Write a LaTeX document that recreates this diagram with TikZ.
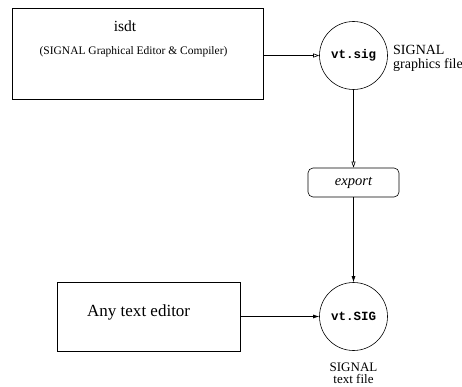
\documentclass[tikz,border=0pt]{standalone}
\usepackage{fontspec}
\setmainfont{Liberation Serif}
\setmonofont{Liberation Mono}
\usetikzlibrary{arrows.meta}
\begin{document}
\begin{tikzpicture}[x=1pt,y=-1pt,
  box/.style={draw,line width=0.7pt,inner sep=0pt},
  filenode/.style={draw,circle,line width=0.6pt,minimum size=68pt,inner sep=0pt,font=\ttfamily\bfseries\fontsize{12.5}{14}\selectfont},
  lbl/.style={font=\fontsize{14}{14}\selectfont,align=left,inner sep=0pt},
  conn/.style={line width=0.6pt},
  openarr/.style={conn,-{Triangle[open,length=6pt,width=4pt]}},
  fillarr/.style={conn,-{Latex[length=6pt,width=4pt]}}]
\useasboundingbox (0,0) rectangle (462,387);
\node[box,minimum width=251pt,minimum height=91pt] (isdt) at (137.5,53.5) {};
\node[font=\fontsize{15.5}{16}\selectfont] (isdtt) at (125,26) {isdt};
\node[font=\fontsize{11.5}{12}\selectfont] (isdts) at (133.5,52) {(SIGNAL Graphical Editor \& Compiler)};
\node[filenode] (sig) at (353.5,55.5) {vt.sig};
\node[lbl,anchor=west] (sigl) at (393,58) {SIGNAL\\graphics file};
\node[draw,rounded corners=5pt,line width=0.6pt,minimum width=91pt,minimum height=29pt,inner sep=0pt,font=\itshape\fontsize{14.5}{15}\selectfont] (exp) at (353.5,182.5) {export};
\node[filenode] (SIG) at (353.5,316.5) {vt.SIG};
\node[lbl,align=center,anchor=north,font=\fontsize{13}{12}\selectfont] (SIGl) at (353.5,362.5) {SIGNAL\\text file};
\node[box,minimum width=183pt,minimum height=69pt] (ed) at (148.5,316.5) {};
\node[font=\fontsize{17}{18}\selectfont,anchor=west,inner sep=0pt] (edt) at (87,312) {Any text editor};
\draw[openarr] (isdt.east |- sig.west) -- (sig.west);
\draw[openarr] (sig.south) -- (exp.north);
\draw[fillarr] (exp.south) -- (SIG.north);
\draw[fillarr] (ed.east |- SIG.west) -- (SIG.west);
\end{tikzpicture}
\end{document}
